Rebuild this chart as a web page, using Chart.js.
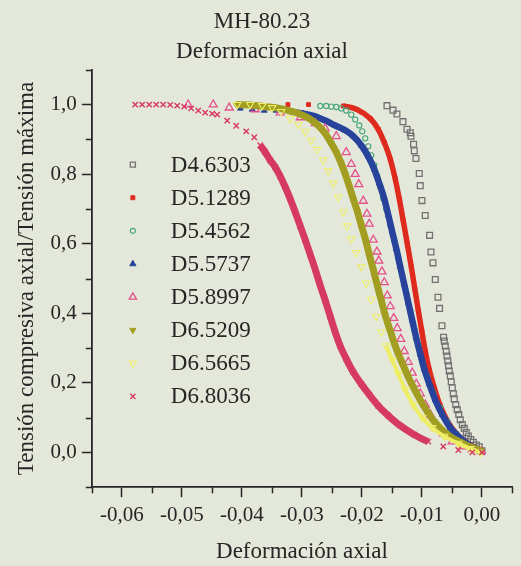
<!DOCTYPE html>
<html lang="es">
<head>
<meta charset="utf-8">
<title>MH-80.23 · Deformación axial</title>
<script src="https://cdn.jsdelivr.net/npm/chart.js@4/dist/chart.umd.min.js"></script>
<style>
  html, body { margin: 0; padding: 0; background: #e4e8da; }
  #wrap { width: 521px; height: 566px; }
  canvas { display: block; }
</style>
</head>
<body>
<div id="wrap"><canvas id="chart" width="521" height="566"></canvas></div>
<script>
// ---- Specimens -------------------------------------------------------------
const seriesNames = ['D4.6303', 'D5.1289', 'D5.4562', 'D5.5737', 'D5.8997', 'D6.5209', 'D6.5665', 'D6.8036'];

// Axial strain (x) and compressive stress / peak stress (y), one pair per specimen
const d46303X = [-0.01583, -0.01483, -0.01417, -0.01317, -0.0125, -0.01195, -0.01183, -0.0114, -0.01128, -0.011, -0.01045, -0.01028, -0.01, -0.00945, -0.00873, -0.0085, -0.00817, -0.00778, -0.00733, -0.00707, -0.00667, -0.0064, -0.00628, -0.00612, -0.00595, -0.00583, -0.0057, -0.00557, -0.00545, -0.00528, -0.00512, -0.00495, -0.00478, -0.00462, -0.00437, -0.00412, -0.00387, -0.00362, -0.00328, -0.00295, -0.00262, -0.00228, -0.00187, -0.00145, -0.00095, -0.00045, 0];
const d46303Y = [0.997, 0.984, 0.973, 0.951, 0.929, 0.919, 0.909, 0.886, 0.867, 0.845, 0.802, 0.767, 0.724, 0.681, 0.624, 0.576, 0.545, 0.497, 0.446, 0.414, 0.364, 0.331, 0.320, 0.306, 0.291, 0.277, 0.263, 0.249, 0.234, 0.220, 0.203, 0.186, 0.169, 0.154, 0.137, 0.123, 0.109, 0.094, 0.080, 0.069, 0.057, 0.047, 0.037, 0.029, 0.021, 0.016, 0.005];

const d51289X = [-0.03233, -0.0289, -0.02312, -0.02083, -0.01862, -0.01728, -0.01628, -0.01528, -0.01445, -0.01378, -0.01312, -0.01245, -0.01178, -0.0112, -0.01062, -0.01003, -0.00945, -0.00878, -0.00795, -0.00695, -0.00578, -0.00428, -0.00262, -0.00112, 0];
const d51289Y = [1.0, 1.0, 0.996, 0.986, 0.960, 0.929, 0.891, 0.843, 0.786, 0.729, 0.666, 0.600, 0.534, 0.471, 0.409, 0.349, 0.291, 0.237, 0.186, 0.134, 0.091, 0.054, 0.029, 0.014, 0.004];

const d54562X = [-0.02695, -0.02595, -0.02512, -0.02428, -0.02345, -0.02262, -0.02178, -0.02112, -0.02045, -0.01995, -0.01945, -0.01895, -0.01845, -0.01795, -0.01745, -0.01695, -0.01645, -0.01595, -0.01528, -0.01462, -0.01395, -0.01328, -0.01262, -0.01195, -0.01128, -0.01062, -0.00995, -0.00912, -0.00812, -0.00695, -0.00578, -0.00428, -0.00245, -0.00095, 0];
const d54562Y = [0.996, 0.996, 0.994, 0.993, 0.989, 0.983, 0.971, 0.957, 0.940, 0.923, 0.903, 0.880, 0.854, 0.826, 0.794, 0.763, 0.731, 0.700, 0.654, 0.609, 0.560, 0.509, 0.457, 0.406, 0.354, 0.306, 0.263, 0.217, 0.171, 0.129, 0.089, 0.054, 0.026, 0.011, 0.003];

const d55737X = [-0.04028, -0.03828, -0.03628, -0.03428, -0.03195, -0.02978, -0.02778, -0.02612, -0.02445, -0.02278, -0.02145, -0.02012, -0.01895, -0.01795, -0.01712, -0.01628, -0.01562, -0.01495, -0.01428, -0.01362, -0.01295, -0.01228, -0.01162, -0.01095, -0.01028, -0.00962, -0.00878, -0.00778, -0.00662, -0.00528, -0.00378, -0.00228, -0.00078, 0];
const d55737Y = [0.989, 0.986, 0.983, 0.983, 0.980, 0.974, 0.966, 0.954, 0.940, 0.926, 0.909, 0.883, 0.851, 0.814, 0.774, 0.729, 0.683, 0.634, 0.586, 0.534, 0.483, 0.431, 0.380, 0.329, 0.283, 0.240, 0.197, 0.151, 0.109, 0.071, 0.043, 0.023, 0.009, 0.003];

const d58997X = [-0.04895, -0.04478, -0.04212, -0.03778, -0.03362, -0.03028, -0.02778, -0.02612, -0.02428, -0.02262, -0.02178, -0.02112, -0.02053, -0.01978, -0.01917, -0.01878, -0.01812, -0.0175, -0.0172, -0.01667, -0.01628, -0.01578, -0.01528, -0.0147, -0.01412, -0.01353, -0.01295, -0.01228, -0.01162, -0.01095, -0.01028, -0.00945, -0.00862, -0.00762, -0.00645, -0.00495, -0.00328, -0.00162, -0.00012];
const d58997Y = [1.0, 1.0, 0.991, 0.986, 0.977, 0.963, 0.946, 0.931, 0.909, 0.863, 0.829, 0.800, 0.771, 0.723, 0.686, 0.657, 0.611, 0.577, 0.551, 0.520, 0.489, 0.451, 0.420, 0.386, 0.357, 0.326, 0.291, 0.260, 0.229, 0.197, 0.169, 0.137, 0.109, 0.080, 0.054, 0.031, 0.017, 0.009, 0.003];

const d65209X = [-0.04095, -0.03862, -0.03612, -0.03412, -0.03228, -0.03078, -0.02945, -0.02828, -0.02712, -0.02612, -0.02512, -0.02428, -0.02345, -0.02278, -0.02212, -0.02145, -0.02078, -0.02012, -0.01945, -0.01878, -0.01812, -0.01745, -0.01678, -0.01612, -0.01528, -0.01445, -0.01345, -0.01228, -0.01112, -0.00962, -0.00795, -0.00595, -0.00378, -0.00162, 0];
const d65209Y = [1.0, 0.999, 0.994, 0.990, 0.983, 0.976, 0.966, 0.954, 0.937, 0.917, 0.889, 0.863, 0.831, 0.800, 0.766, 0.729, 0.694, 0.654, 0.614, 0.569, 0.526, 0.480, 0.437, 0.394, 0.349, 0.306, 0.263, 0.217, 0.177, 0.131, 0.089, 0.054, 0.031, 0.014, 0.003];

const d65665X = [-0.04078, -0.03862, -0.03662, -0.03495, -0.03345, -0.03195, -0.03062, -0.02945, -0.02845, -0.02745, -0.02645, -0.02562, -0.02478, -0.02395, -0.02312, -0.02245, -0.02178, -0.02095, -0.02012, -0.01928, -0.01845, -0.01762, -0.01678, -0.01595, -0.01495, -0.01395, -0.01278, -0.01145, -0.00995, -0.00828, -0.00628, -0.00395, -0.00195, -0.00028];
const d65665Y = [1.0, 1.0, 0.997, 0.991, 0.980, 0.960, 0.943, 0.923, 0.897, 0.871, 0.840, 0.809, 0.774, 0.734, 0.691, 0.651, 0.614, 0.574, 0.534, 0.486, 0.440, 0.391, 0.346, 0.306, 0.266, 0.226, 0.180, 0.137, 0.100, 0.071, 0.046, 0.026, 0.011, 0.0];

const d68036X = [-0.05778, -0.05662, -0.05545, -0.05428, -0.05312, -0.05195, -0.05078, -0.04962, -0.04845, -0.04728, -0.04612, -0.04495, -0.04412, -0.04245, -0.04095, -0.03928, -0.03795, -0.03695, -0.03612, -0.03528, -0.03445, -0.03362, -0.03278, -0.03195, -0.03112, -0.03028, -0.02945, -0.02862, -0.02778, -0.02695, -0.02612, -0.02528, -0.02445, -0.02362, -0.02262, -0.02145, -0.02012, -0.01878, -0.01728, -0.01562, -0.01362, -0.01128, -0.00895, -0.00645, -0.00395, -0.00162, 0];
const d68036Y = [1.0, 1.0, 1.0, 1.0, 1.0, 0.999, 0.997, 0.994, 0.989, 0.983, 0.977, 0.974, 0.971, 0.954, 0.939, 0.923, 0.906, 0.883, 0.863, 0.840, 0.820, 0.794, 0.763, 0.729, 0.691, 0.651, 0.611, 0.569, 0.526, 0.480, 0.437, 0.391, 0.346, 0.306, 0.269, 0.231, 0.197, 0.166, 0.134, 0.106, 0.077, 0.051, 0.031, 0.017, 0.007, 0.0, 0.0];

// ---- Axis ticks ------------------------------------------------------------
const xTickValues = [-0.06, -0.05, -0.04, -0.03, -0.02, -0.01, 0];
const xTickLabels = ['-0,06', '-0,05', '-0,04', '-0,03', '-0,02', '-0,01', '0,00'];
const xMinorTicks = [-0.065, -0.055, -0.045, -0.035, -0.025, -0.015, -0.005, 0.005];
const yTickValues = [0, 0.2, 0.4, 0.6, 0.8, 1.0];
const yTickLabels = ['0,0', '0,2', '0,4', '0,6', '0,8', '1,0'];
const yMinorTicks = [-0.1, 0.1, 0.3, 0.5, 0.7, 0.9, 1.1];

// ---- Look of each specimen --------------------------------------------------
const INK = '#262626';
const SERIF = "'Liberation Serif', 'Times New Roman', serif";

const seriesX = [d46303X, d51289X, d54562X, d55737X, d58997X, d65209X, d65665X, d68036X];
const seriesY = [d46303Y, d51289Y, d54562Y, d55737Y, d58997Y, d65209Y, d65665Y, d68036Y];

// band: strain span drawn as a thick stroke under the markers (dense runs)
const looks = [
  { color: '#727272', style: 'rect',     rot: 0,   r: 4.1, fill: false, bw: 1.3, band: null,               lw: 0,   legendR: 3.6 },
  { color: '#df2a1e', style: 'rect',     rot: 0,   r: 2.7, fill: true,  bw: 1.0, band: [-0.0232, 0.001],   lw: 5.5, legendR: 2.8 },
  { color: '#47a57a', style: 'circle',   rot: 0,   r: 2.6, fill: false, bw: 1.1, band: null,               lw: 0,   legendR: 2.5 },
  { color: '#28439c', style: 'triangle', rot: 0,   r: 3.4, fill: true,  bw: 1.0, band: [-0.0320, 0.001],   lw: 6.5, legendR: 3.6 },
  { color: '#e4508c', style: 'triangle', rot: 0,   r: 4.6, fill: false, bw: 1.3, band: null,               lw: 0,   legendR: 4.2 },
  { color: '#a29e22', style: 'triangle', rot: 180, r: 3.4, fill: true,  bw: 1.0, band: [-0.0410, 0.001],   lw: 7.0, legendR: 3.6 },
  { color: '#eeee66', style: 'triangle', rot: 180, r: 4.2, fill: false, bw: 1.1, band: [-0.0160, 0.001],   lw: 4.0, legendR: 4.0 },
  { color: '#d63a62', style: 'crossRot', rot: 0,   r: 3.8, fill: false, bw: 1.4, band: [-0.0371, -0.0089], lw: 7.0, legendR: 3.6 }
];

const datasets = seriesNames.map((name, i) => {
  const lk = looks[i];
  const inBand = v => lk.band && v >= lk.band[0] && v <= lk.band[1];
  return {
    label: name,
    data: seriesX[i].map((x, k) => ({ x, y: seriesY[i][k] })),
    showLine: !!lk.band,
    borderColor: lk.color,
    borderWidth: lk.lw,
    cubicInterpolationMode: 'monotone',
    segment: {
      borderColor: c => (inBand(c.p0.parsed.x) && inBand(c.p1.parsed.x)) ? lk.color : 'rgba(0,0,0,0)'
    },
    pointStyle: lk.style,
    pointRotation: lk.rot,
    pointRadius: lk.r,
    pointBorderWidth: lk.bw,
    pointBorderColor: lk.color,
    pointBackgroundColor: lk.fill ? lk.color : 'rgba(0,0,0,0)',
    // later specimens are painted over earlier ones
    order: seriesNames.length - i
  };
});

// Short intermediate tick marks on both axes
const minorTicks = {
  id: 'minorTicks',
  afterDraw(chart) {
    const { ctx, scales: { x, y } } = chart;
    ctx.save();
    ctx.strokeStyle = INK;
    ctx.lineWidth = 1.5;
    ctx.beginPath();
    xMinorTicks.forEach(v => {
      const px = Math.round(x.getPixelForValue(v)) + 0.5;
      ctx.moveTo(px, x.top);
      ctx.lineTo(px, x.top + 6);
    });
    yMinorTicks.forEach(v => {
      const py = Math.round(y.getPixelForValue(v)) + 0.5;
      ctx.moveTo(y.right, py);
      ctx.lineTo(y.right - 6, py);
    });
    ctx.stroke();
    ctx.restore();
  }
};

// Key placed inside the plot, on its left side
const insetKey = {
  id: 'insetKey',
  afterDraw(chart) {
    const { ctx, chartArea: a } = chart;
    const draw = Chart.helpers && Chart.helpers.drawPoint;
    const rowGap = 33.1;
    const midY = (a.top + a.bottom) / 2 + 2;
    const markX = a.left + 41;
    const textX = a.left + 79;
    ctx.save();
    seriesNames.forEach((name, i) => {
      const lk = looks[i];
      const yy = midY + (i - (seriesNames.length - 1) / 2) * rowGap;
      ctx.fillStyle = lk.fill ? lk.color : 'rgba(0,0,0,0)';
      ctx.strokeStyle = lk.color;
      ctx.lineWidth = lk.bw;
      if (draw) {
        draw(ctx, { pointStyle: lk.style, rotation: lk.rot, radius: lk.legendR, borderWidth: lk.bw }, markX, yy);
      }
      ctx.fillStyle = INK;
      ctx.font = '23px ' + SERIF;
      ctx.textAlign = 'left';
      ctx.textBaseline = 'middle';
      ctx.fillText(name, textX, yy + 1);
    });
    ctx.restore();
  }
};

new Chart(document.getElementById('chart'), {
  type: 'scatter',
  data: { datasets },
  plugins: [minorTicks, insetKey],
  options: {
    responsive: false,
    animation: false,
    events: [],
    layout: { padding: { left: 12, right: 9, top: 0, bottom: 0 } },
    plugins: {
      legend: { display: false },
      tooltip: { enabled: false },
      title: {
        display: true,
        text: ['MH-80.23', 'Deformación axial'],
        color: INK,
        font: { family: SERIF, size: 23, weight: 'normal', lineHeight: 1.3 },
        padding: { top: 7, bottom: 3 }
      }
    },
    scales: {
      x: {
        type: 'linear',
        position: 'bottom',
        min: -0.065,
        max: 0.005,
        afterBuildTicks: axis => { axis.ticks = xTickValues.map(v => ({ value: v })); },
        ticks: {
          callback: (v, i) => xTickLabels[i],
          color: INK,
          font: { family: SERIF, size: 21 },
          padding: 6,
          maxRotation: 0,
          autoSkip: false
        },
        grid: { drawOnChartArea: false, drawTicks: true, tickLength: 10, tickColor: INK, tickWidth: 1.5 },
        border: { display: true, color: INK, width: 1.8 },
        title: {
          display: true,
          text: 'Deformación axial',
          color: INK,
          font: { family: SERIF, size: 23, weight: 'normal', lineHeight: 1.2 },
          padding: { top: 4, bottom: 0 }
        }
      },
      y: {
        type: 'linear',
        position: 'left',
        min: -0.1,
        max: 1.1,
        afterBuildTicks: axis => { axis.ticks = yTickValues.map(v => ({ value: v })); },
        ticks: {
          callback: (v, i) => yTickLabels[i],
          color: INK,
          font: { family: SERIF, size: 21 },
          padding: 5,
          autoSkip: false
        },
        grid: { drawOnChartArea: false, drawTicks: true, tickLength: 10, tickColor: INK, tickWidth: 1.5 },
        border: { display: true, color: INK, width: 1.8 },
        title: {
          display: true,
          text: 'Tensión compresiva axial/Tensión máxima',
          color: INK,
          font: { family: SERIF, size: 23, weight: 'normal', lineHeight: 1.2 },
          padding: { top: 1, bottom: 5 }
        }
      }
    }
  }
});
</script>
</body>
</html>
